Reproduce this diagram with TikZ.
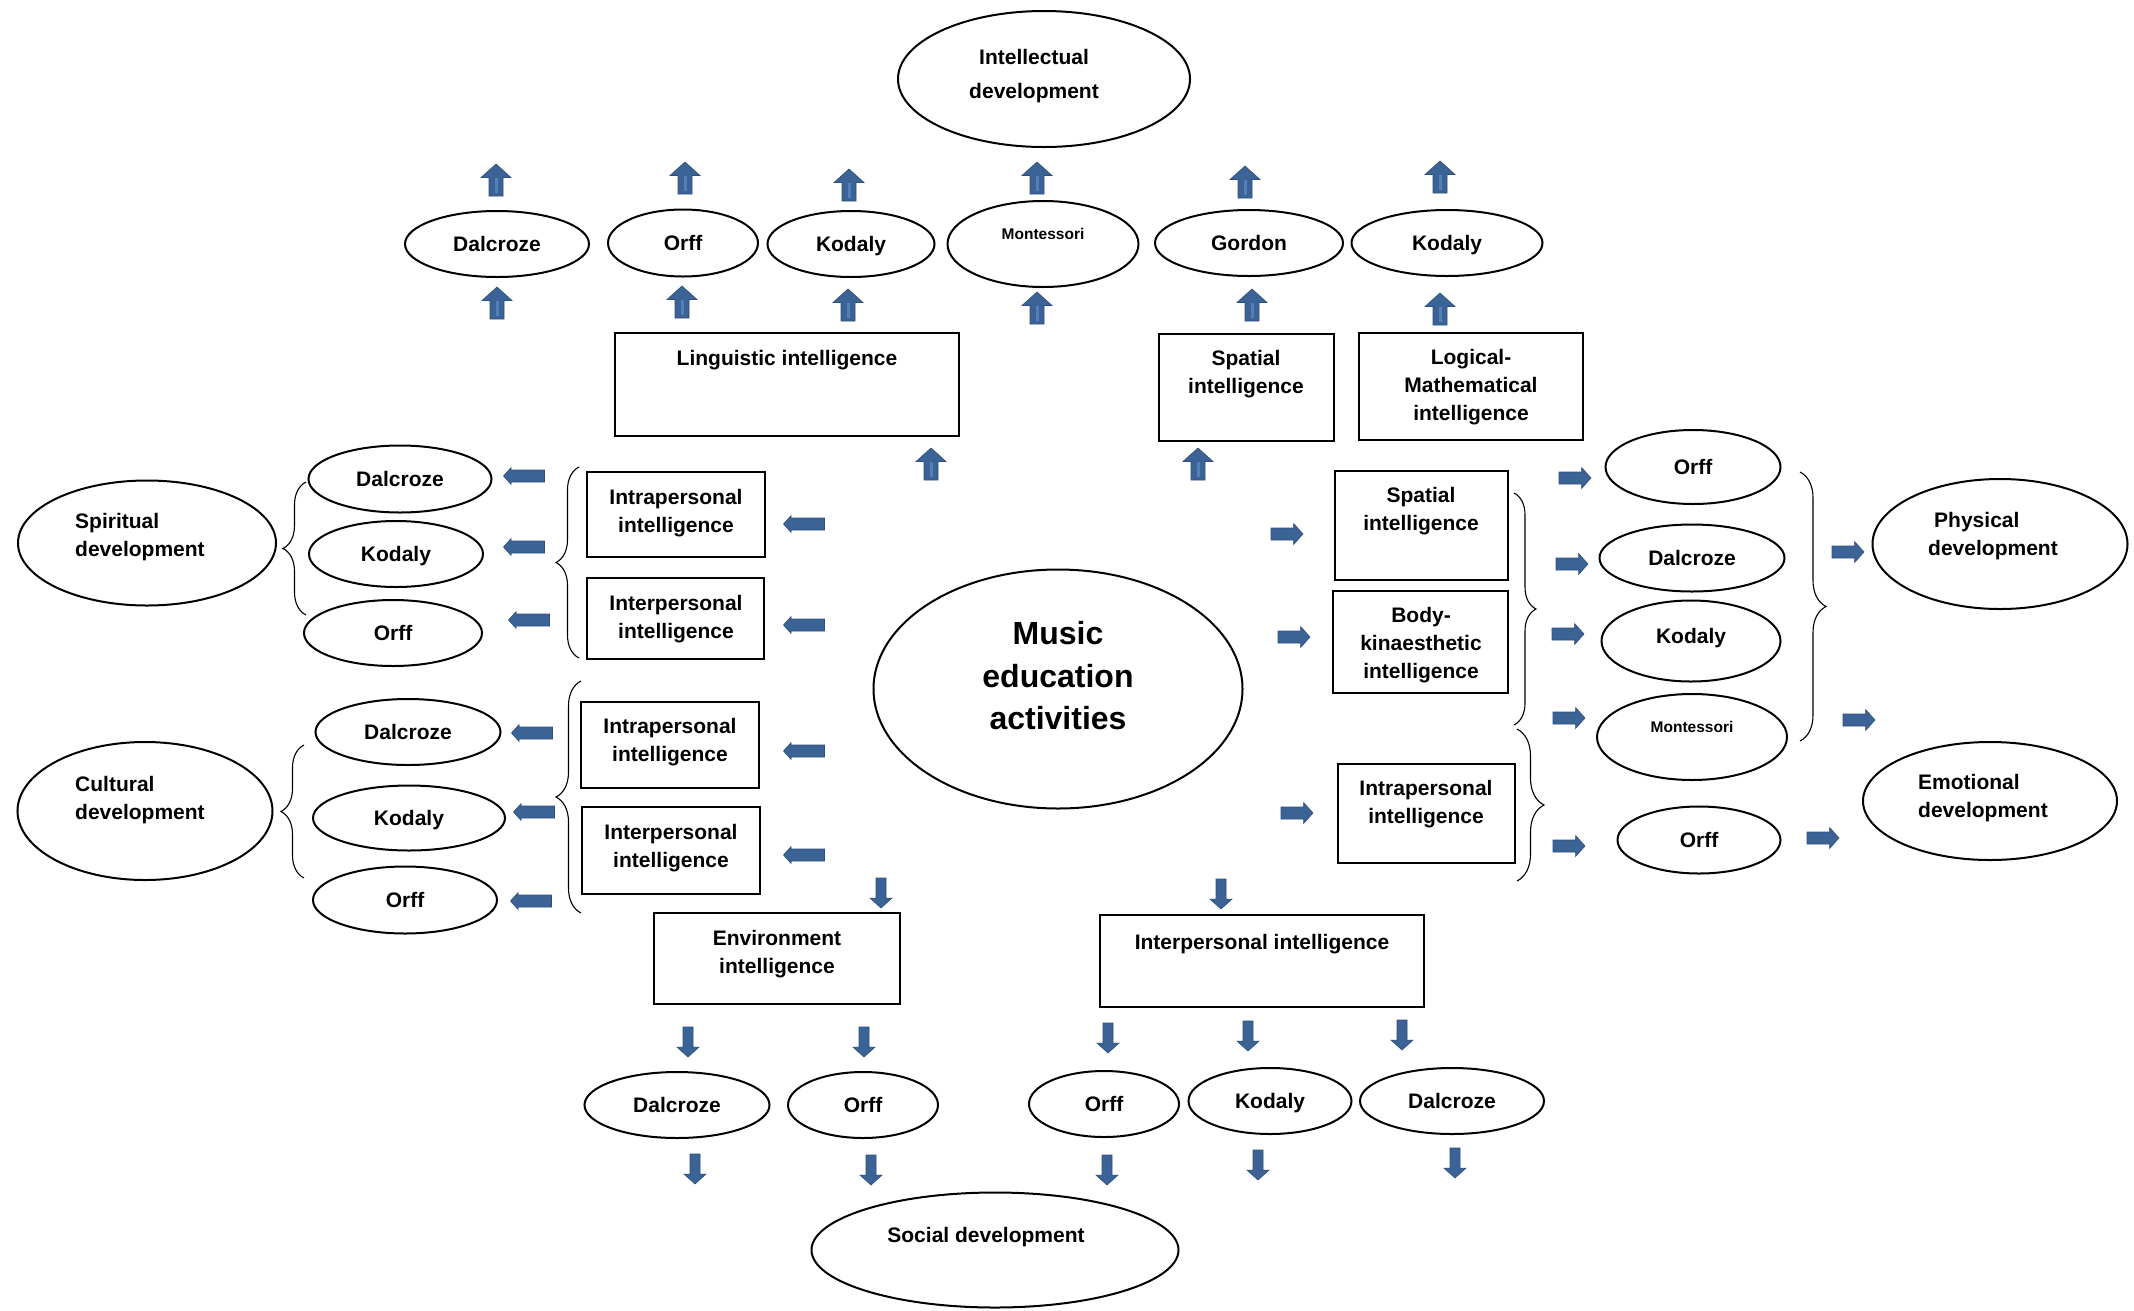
\documentclass[tikz,border=0pt]{standalone}
\usepackage{fontspec}
\setmainfont{Liberation Sans}
\usetikzlibrary{shapes.geometric,decorations.pathreplacing}
\definecolor{arrowblue}{RGB}{60,99,150}
\definecolor{arrowedge}{RGB}{46,78,124}
\definecolor{arrowlight}{RGB}{84,128,186}
\def\blockarr(#1)(#2:#3:#4:#5){\filldraw[arrowblue,draw=arrowedge,line width=0.6pt,shift={(#1)},rotate=#2] ({-#3/2},{-#4/2}) -- ({#3/2-0.45*#5},{-#4/2}) -- ({#3/2-0.45*#5},{-#5/2}) -- ({#3/2},0) -- ({#3/2-0.45*#5},{#5/2}) -- ({#3/2-0.45*#5},{#4/2}) -- ({-#3/2},{#4/2}) -- cycle;}
\def\uparr(#1){\blockarr(#1)(90:32:14:30)\draw[arrowlight,line width=3pt,shift={(#1)}] (0,13) -- (0,-2);}
\tikzset{
  lbl/.style={font=\fontsize{21}{28}\selectfont\bfseries, align=center, inner sep=0pt},
  oval/.style={ellipse, draw, line width=2pt, inner sep=0pt, text depth=0pt, lbl},
  box/.style={rectangle, draw, line width=2pt, inner sep=0pt},
  curly/.style={decorate, decoration={brace, amplitude=#1}, line width=1.1pt},
}

\begin{document}
\begin{tikzpicture}[x=1pt,y=-1pt]
		%%%%% START %%%%%
		\useasboundingbox (0,0) rectangle (2134,1310);
		\fill[white] (0,0) rectangle (2134,1310);
		
		\node[oval, minimum width=369, minimum height=239] (music) at (1058,689) {};
		\node[lbl, font=\fontsize{32}{42.5}\selectfont\bfseries] (musictxt) at (1058,676) {Music\\education\\activities};
		
		%%%%% top %%%%%
		\node[oval, minimum width=292, minimum height=136] (intel) at (1044,79) {};
		\node[lbl, font=\fontsize{21}{34}\selectfont\bfseries] (inteltxt) at (1034,76) {Intellectual\\development};
		
		\node[oval, minimum width=184, minimum height=66] (dalT) at (497,244) {Dalcroze};
		\node[oval, minimum width=150, minimum height=67] (orfT) at (683,243) {Orff};
		\node[oval, minimum width=167, minimum height=66] (kodT) at (851,244) {Kodaly};
		\node[oval, minimum width=191, minimum height=86] (monT) at (1043,244) {};
		\node[lbl, font=\fontsize{15.5}{20}\selectfont\bfseries] (monTtxt) at (1043,234) {Montessori};
		\node[oval, minimum width=188, minimum height=66] (gorT) at (1249,243) {Gordon};
		\node[oval, minimum width=191, minimum height=66] (kodT2) at (1447,243) {Kodaly};
		
		\uparr(496,180)
		\uparr(685,178)
		\uparr(849,185)
		\uparr(1037,178)
		\uparr(1245,182)
		\uparr(1440,177)
		
		\uparr(497,303)
		\uparr(682,302)
		\uparr(848,305)
		\uparr(1037,308)
		\uparr(1252,305)
		\uparr(1440,309)
		
		\node[box, minimum width=344, minimum height=103] (ling) at (787,384.5) {};
		\node[lbl] (lingtxt) at (787,360) {Linguistic intelligence};
		\node[box, minimum width=175, minimum height=107] (spatT) at (1246.5,387.5) {};
		\node[lbl] (spatTtxt) at (1246,374) {Spatial\\intelligence};
		\node[box, minimum width=224, minimum height=107] (logic) at (1471,386.5) {};
		\node[lbl] (logictxt) at (1471,387) {Logical-\\Mathematical\\intelligence};
		
		\uparr(931,464)
		\uparr(1198,464)
		
		%%%%% left %%%%%
		\node[oval, minimum width=258, minimum height=125] (spirit) at (147,543) {};
		\node[lbl, align=left, anchor=west] (spirittxt) at (75,537) {Spiritual\\development};
		\draw[curly=23pt] (306,615) -- (306,482);
		\node[oval, minimum width=183, minimum height=67] (dalS) at (400,479) {Dalcroze};
		\node[oval, minimum width=174, minimum height=66] (kodS) at (396,554) {Kodaly};
		\node[oval, minimum width=178, minimum height=66] (orfS) at (393,633) {Orff};
		\blockarr(524,476)(180:41:12:17)
		\blockarr(524,547)(180:41:12:17)
		\blockarr(529,620)(180:41:12:17)
		\draw[curly=23pt] (579,658) -- (579,467);
		\node[box, minimum width=178, minimum height=85] (intraS) at (676,514.5) {};
		\node[lbl] (intraStxt) at (676,513) {Intrapersonal\\intelligence};
		\node[box, minimum width=177, minimum height=81] (interS) at (675.5,618.5) {};
		\node[lbl] (interStxt) at (676,619) {Interpersonal\\intelligence};
		\blockarr(804,524)(180:41:12:17)
		\blockarr(804,625)(180:41:12:17)
		
		\node[oval, minimum width=255, minimum height=138] (cult) at (145,811) {};
		\node[lbl, align=left, anchor=west] (culttxt) at (75,800) {Cultural\\development};
		\draw[curly=23pt] (304,878) -- (304,745);
		\node[oval, minimum width=185, minimum height=66] (dalC) at (408,732) {Dalcroze};
		\node[oval, minimum width=192, minimum height=65] (kodC) at (409,818) {Kodaly};
		\node[oval, minimum width=184, minimum height=67] (orfC) at (405,900) {Orff};
		\blockarr(532,733)(180:41:12:17)
		\blockarr(534,812)(180:41:12:17)
		\blockarr(531,901)(180:41:12:17)
		\draw[curly=25pt] (581,913) -- (581,681);
		\node[box, minimum width=178, minimum height=86] (intraC) at (670,745) {};
		\node[lbl] (intraCtxt) at (670,742) {Intrapersonal\\intelligence};
		\node[box, minimum width=178, minimum height=87] (interC) at (671,850.5) {};
		\node[lbl] (interCtxt) at (671,848) {Interpersonal\\intelligence};
		\blockarr(804,751)(180:41:12:17)
		\blockarr(804,855)(180:41:12:17)
		
		%%%%% right %%%%%
		\blockarr(1287,534)(0:32:12:21)
		\blockarr(1294,637)(0:32:12:21)
		\blockarr(1297,813)(0:32:12:21)
		\node[box, minimum width=173, minimum height=109] (spatR) at (1421.5,525.5) {};
		\node[lbl] (spatRtxt) at (1421,511) {Spatial\\intelligence};
		\node[box, minimum width=175, minimum height=102] (body) at (1420.5,642) {};
		\node[lbl] (bodytxt) at (1421,645) {Body-\\kinaesthetic\\intelligence};
		\node[box, minimum width=177, minimum height=99] (intraR) at (1426.5,813.5) {};
		\node[lbl] (intraRtxt) at (1426,804) {Intrapersonal\\intelligence};
		\draw[curly=22pt] (1514,493) -- (1514,725);
		\draw[curly=27pt] (1517,729) -- (1517,881);
		
		\blockarr(1575,478)(0:32:12:21)
		\blockarr(1572,564)(0:32:12:21)
		\blockarr(1568,634)(0:32:12:21)
		\blockarr(1569,718)(0:32:12:21)
		\blockarr(1569,846)(0:32:12:21)
		\node[oval, minimum width=175, minimum height=74] (orfR) at (1693,467) {Orff};
		\node[oval, minimum width=185, minimum height=67] (dalR) at (1692,558) {Dalcroze};
		\node[oval, minimum width=179, minimum height=81] (kodR) at (1691,641) {};
		\node[lbl, text depth=0pt] (kodRtxt) at (1691,636) {Kodaly};
		\node[oval, minimum width=190, minimum height=86] (monR) at (1692,737) {};
		\node[lbl, font=\fontsize{15.5}{20}\selectfont\bfseries] (monRtxt) at (1692,727) {Montessori};
		\node[oval, minimum width=163, minimum height=67] (orfR2) at (1699,840) {Orff};
		\draw[curly=26pt] (1800,472) -- (1800,741);
		
		\blockarr(1848,552)(0:32:12:21)
		\blockarr(1859,720)(0:32:12:21)
		\blockarr(1823,838)(0:32:12:21)
		\node[oval, minimum width=255, minimum height=130] (phys) at (2000,544) {};
		\node[lbl, align=left, anchor=west] (physttxt) at (1928,536) {\hspace*{6pt}Physical\\development};
		\node[oval, minimum width=254, minimum height=118] (emot) at (1990,801) {};
		\node[lbl, align=left, anchor=west] (emottxt) at (1918,798) {Emotional\\development};
		
		%%%%% bottom %%%%%
		\blockarr(881,893)(-90:30:10:22)
		\blockarr(1221,894)(-90:30:10:22)
		\node[box, minimum width=246, minimum height=91] (env) at (777,958.5) {};
		\node[lbl] (envtxt) at (777,954) {Environment\\intelligence};
		\node[box, minimum width=324, minimum height=92] (interB) at (1262,961) {};
		\node[lbl] (interBtxt) at (1262,944) {Interpersonal intelligence};
		
		\blockarr(688,1042)(-90:30:10:22)
		\blockarr(864,1042)(-90:30:10:22)
		\blockarr(1108,1038)(-90:30:10:22)
		\blockarr(1248,1036)(-90:30:10:22)
		\blockarr(1402,1035)(-90:30:10:22)
		
		\node[oval, minimum width=185, minimum height=66] (dalB) at (677,1105) {Dalcroze};
		\node[oval, minimum width=150, minimum height=66] (orfB) at (863,1105) {Orff};
		\node[oval, minimum width=150, minimum height=66] (orfB2) at (1104,1104) {Orff};
		\node[oval, minimum width=163, minimum height=66] (kodB) at (1270,1101) {Kodaly};
		\node[oval, minimum width=184, minimum height=66] (dalB2) at (1452,1101) {Dalcroze};
		
		\blockarr(695,1169)(-90:30:10:22)
		\blockarr(871,1170)(-90:30:10:22)
		\blockarr(1107,1170)(-90:30:10:22)
		\blockarr(1258,1165)(-90:30:10:22)
		\blockarr(1455,1163)(-90:30:10:22)
		
		\node[oval, minimum width=367, minimum height=115] (social) at (995,1250) {};
		\node[lbl] (socialtxt) at (986,1237) {Social development};
		
		%%%%% END %%%%%
\end{tikzpicture}
\end{document}
